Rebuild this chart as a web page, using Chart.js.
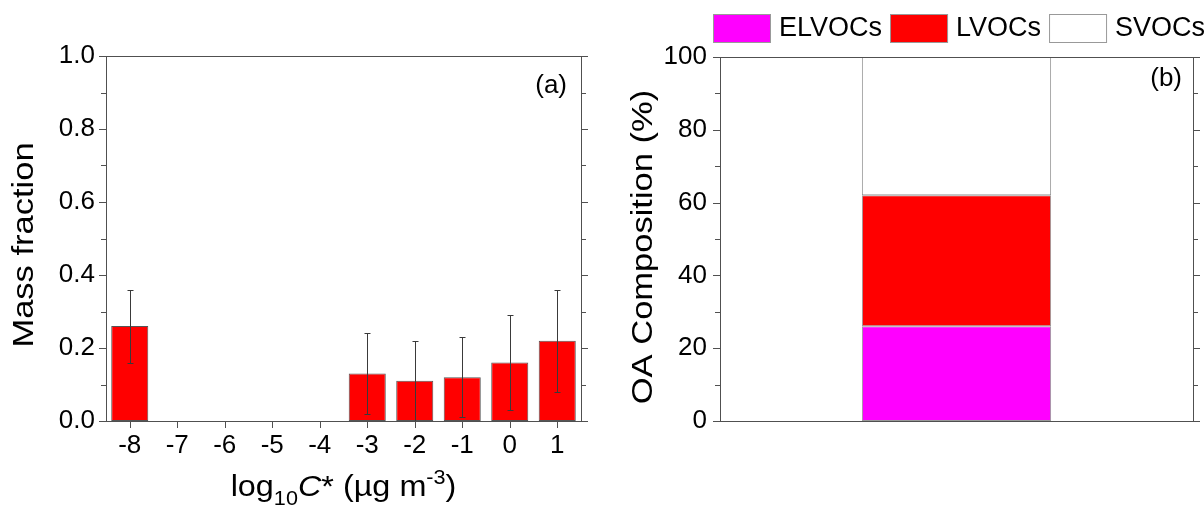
<!DOCTYPE html>
<html>
<head>
<meta charset="utf-8">
<script src="https://cdn.jsdelivr.net/npm/chart.js@4.4.0/dist/chart.umd.min.js"></script>
<style>
    html, body { margin: 0; padding: 0; background: #fff; }
    #wrap { position: relative; width: 1204px; height: 512px; }
    .panel { position: absolute; top: 0; height: 512px; }
    #panelA { left: 0; width: 600px; }
    #panelB { left: 600px; width: 604px; }
</style>
</head>
<body>
<div id="wrap">
    <div class="panel" id="panelA"><canvas id="chartA"></canvas></div>
    <div class="panel" id="panelB"><canvas id="chartB"></canvas></div>
</div>
<script>
// Panel (a): volatility distribution
const logC = ['-8', '-7', '-6', '-5', '-4', '-3', '-2', '-1', '0', '1'];
const massFraction = [0.26, null, null, null, null, 0.13, 0.11, 0.12, 0.16, 0.22];
const errLow = [0.16, null, null, null, null, 0.02, 0.00, 0.01, 0.03, 0.08];
const errHigh = [0.36, null, null, null, null, 0.24, 0.22, 0.23, 0.29, 0.36];

// Panel (b): OA composition
const groups = ['OA'];
const elvocs = [26];
const lvocs = [36];
const svocs = [38];

const FONT = '"Liberation Sans", Arial, sans-serif';
const TICK_SIZE = 26;
const TITLE_SIZE = 30;
const TITLE_STRETCH = 1.15;
const AXIS_COLOR = '#505050';

// text drawn a bit wider than Arial, as in the original figure
function wideText(ctx, text, x, y, sx, angle = 0) {
    ctx.save();
    ctx.translate(x, y);
    if (angle) ctx.rotate(angle);
    ctx.scale(sx, 1);
    ctx.fillText(text, 0, 0);
    ctx.restore();
}

const axisFrame = {
    id: 'axisFrame',
    afterDraw(chart, args, opts) {
        const { ctx, chartArea: a, scales } = chart;
        const y = scales.y;
        const x = scales.x;
        ctx.save();
        ctx.strokeStyle = AXIS_COLOR;
        ctx.lineWidth = 1;
        ctx.strokeRect(Math.round(a.left) + 0.5, Math.round(a.top) + 0.5, Math.round(a.width), Math.round(a.height));

        // y ticks, left and right, major and minor
        const n = Math.round((y.max - y.min) / opts.minorStep);
        const every = Math.round(opts.majorStep / opts.minorStep);
        ctx.beginPath();
        for (let i = 0; i <= n; i++) {
            const py = Math.round(y.getPixelForValue(y.min + i * opts.minorStep)) + 0.5;
            const len = i % every === 0 ? 7 : 5;
            ctx.moveTo(Math.round(a.left) - len, py);
            ctx.lineTo(Math.round(a.left), py);
            ctx.moveTo(Math.round(a.right), py);
            ctx.lineTo(Math.round(a.right) + len, py);
        }
        if (opts.xTicks) {
            chart.data.labels.forEach((_, i) => {
                const px = Math.round(x.getPixelForValue(i)) + 0.5;
                ctx.moveTo(px, Math.round(a.bottom));
                ctx.lineTo(px, Math.round(a.bottom) + 7);
            });
        }
        ctx.stroke();

        // panel tag
        ctx.fillStyle = '#000';
        ctx.font = `${TICK_SIZE}px ${FONT}`;
        ctx.textAlign = 'right';
        ctx.textBaseline = 'middle';
        ctx.fillText(opts.tag, a.right - opts.tagDx, a.top + opts.tagDy);

        // y title
        ctx.textAlign = 'center';
        ctx.textBaseline = 'alphabetic';
        ctx.font = `${TITLE_SIZE}px ${FONT}`;
        wideText(ctx, opts.yTitle, opts.yTitleX, opts.yTitleY, TITLE_STRETCH, -Math.PI / 2);

        // x title with sub/superscripts
        if (opts.xTitle) {
            const sx = 1.08;
            const parts = opts.xTitle;
            let total = 0;
            parts.forEach(p => {
                ctx.font = p.font;
                p.w = ctx.measureText(p.text).width * sx;
                total += p.w;
            });
            let cx = (a.left + a.right) / 2 - total / 2;
            ctx.textAlign = 'left';
            parts.forEach(p => {
                ctx.font = p.font;
                wideText(ctx, p.text, cx, opts.xTitleY + (p.dy || 0), sx);
                cx += p.w;
            });
        }
        ctx.restore();
    }
};

const errorBars = {
    id: 'errorBars',
    afterDatasetsDraw(chart, args, opts) {
        const meta = chart.getDatasetMeta(0);
        const y = chart.scales.y;
        const ctx = chart.ctx;
        ctx.save();
        ctx.strokeStyle = '#3a3a3a';
        ctx.lineWidth = 1;
        ctx.beginPath();
        meta.data.forEach((bar, i) => {
            if (opts.low[i] == null) return;
            const px = Math.round(bar.x) + 0.5;
            const yl = Math.round(y.getPixelForValue(opts.low[i])) + 0.5;
            const yh = Math.round(y.getPixelForValue(opts.high[i])) + 0.5;
            ctx.moveTo(px, yl);
            ctx.lineTo(px, yh);
            ctx.moveTo(px - 3, yl);
            ctx.lineTo(px + 3, yl);
            ctx.moveTo(px - 3, yh);
            ctx.lineTo(px + 3, yh);
        });
        ctx.stroke();
        ctx.restore();
    }
};

const boxLegend = {
    id: 'boxLegend',
    afterDraw(chart, args, opts) {
        const ctx = chart.ctx;
        ctx.save();
        ctx.font = `27px ${FONT}`;
        ctx.textBaseline = 'middle';
        ctx.textAlign = 'left';
        let x = opts.x;
        chart.data.datasets.forEach(ds => {
            ctx.fillStyle = ds.backgroundColor;
            ctx.fillRect(x, opts.y, 58, 29);
            ctx.strokeStyle = '#999';
            ctx.lineWidth = 1;
            ctx.strokeRect(x + 0.5, opts.y + 0.5, 57, 28);
            ctx.fillStyle = '#000';
            ctx.fillText(ds.label, x + 66, opts.y + 15);
            x += 66 + ctx.measureText(ds.label).width + 8;
        });
        ctx.restore();
    }
};

const tickFont = { family: FONT, size: TICK_SIZE };

new Chart(document.getElementById('chartA'), {
    type: 'bar',
    data: {
        labels: logC,
        datasets: [{
            data: massFraction,
            backgroundColor: '#ff0000',
            borderColor: '#555',
            borderWidth: 1,
            borderSkipped: false,
            barPercentage: 0.78,
            categoryPercentage: 1
        }]
    },
    options: {
        responsive: true,
        maintainAspectRatio: false,
        animation: false,
        layout: { padding: { left: 0, right: 19, top: 56, bottom: 0 } },
        plugins: {
            legend: { display: false },
            tooltip: { enabled: false },
            axisFrame: {
                minorStep: 0.1,
                majorStep: 0.2,
                xTicks: true,
                tag: '(a)',
                tagDx: 14,
                tagDy: 30,
                yTitle: 'Mass fraction',
                yTitleX: 33,
                yTitleY: 245,
                xTitleY: 496,
                xTitle: [
                    { text: 'log', font: `${TITLE_SIZE}px ${FONT}` },
                    { text: '10', font: `${Math.round(TITLE_SIZE * 0.65)}px ${FONT}`, dy: 9 },
                    { text: 'C', font: `italic ${TITLE_SIZE}px ${FONT}` },
                    { text: '* (\u00b5g m', font: `${TITLE_SIZE}px ${FONT}` },
                    { text: '-3', font: `${Math.round(TITLE_SIZE * 0.65)}px ${FONT}`, dy: -12 },
                    { text: ')', font: `${TITLE_SIZE}px ${FONT}` }
                ]
            },
            errorBars: { low: errLow, high: errHigh }
        },
        scales: {
            x: {
                grid: { display: false, tickLength: 7 },
                border: { display: false },
                ticks: { font: tickFont, color: '#000', padding: 2, maxRotation: 0 },
                afterFit: s => { s.height = 91; }
            },
            y: {
                min: 0,
                max: 1,
                grid: { display: false, tickLength: 7 },
                border: { display: false },
                ticks: { stepSize: 0.2, font: tickFont, color: '#000', padding: 4, callback: v => v.toFixed(1) },
                afterFit: s => { s.width = 106; }
            }
        }
    },
    plugins: [axisFrame, errorBars]
});

new Chart(document.getElementById('chartB'), {
    type: 'bar',
    data: {
        labels: groups,
        datasets: [
            { label: 'ELVOCs', data: elvocs, backgroundColor: '#ff00ff' },
            { label: 'LVOCs', data: lvocs, backgroundColor: '#ff0000' },
            { label: 'SVOCs', data: svocs, backgroundColor: '#ffffff' }
        ].map(ds => Object.assign(ds, {
            borderColor: '#999',
            borderWidth: 1,
            borderSkipped: false,
            barPercentage: 0.4,
            categoryPercentage: 1
        }))
    },
    options: {
        responsive: true,
        maintainAspectRatio: false,
        animation: false,
        layout: { padding: { left: 0, right: 11, top: 57, bottom: 0 } },
        plugins: {
            legend: { display: false },
            tooltip: { enabled: false },
            axisFrame: {
                minorStep: 10,
                majorStep: 20,
                xTicks: false,
                tag: '(b)',
                tagDx: 11,
                tagDy: 22,
                yTitle: 'OA Composition (%)',
                yTitleX: 52,
                yTitleY: 247
            },
            boxLegend: { x: 113, y: 14 }
        },
        scales: {
            x: {
                stacked: true,
                grid: { display: false },
                border: { display: false },
                ticks: { display: false },
                afterFit: s => { s.height = 91; }
            },
            y: {
                stacked: true,
                min: 0,
                max: 100,
                grid: { display: false, tickLength: 7 },
                border: { display: false },
                ticks: { stepSize: 20, font: tickFont, color: '#000', padding: 6 },
                afterFit: s => { s.width = 120; }
            }
        }
    },
    plugins: [axisFrame, boxLegend]
});
</script>
</body>
</html>
